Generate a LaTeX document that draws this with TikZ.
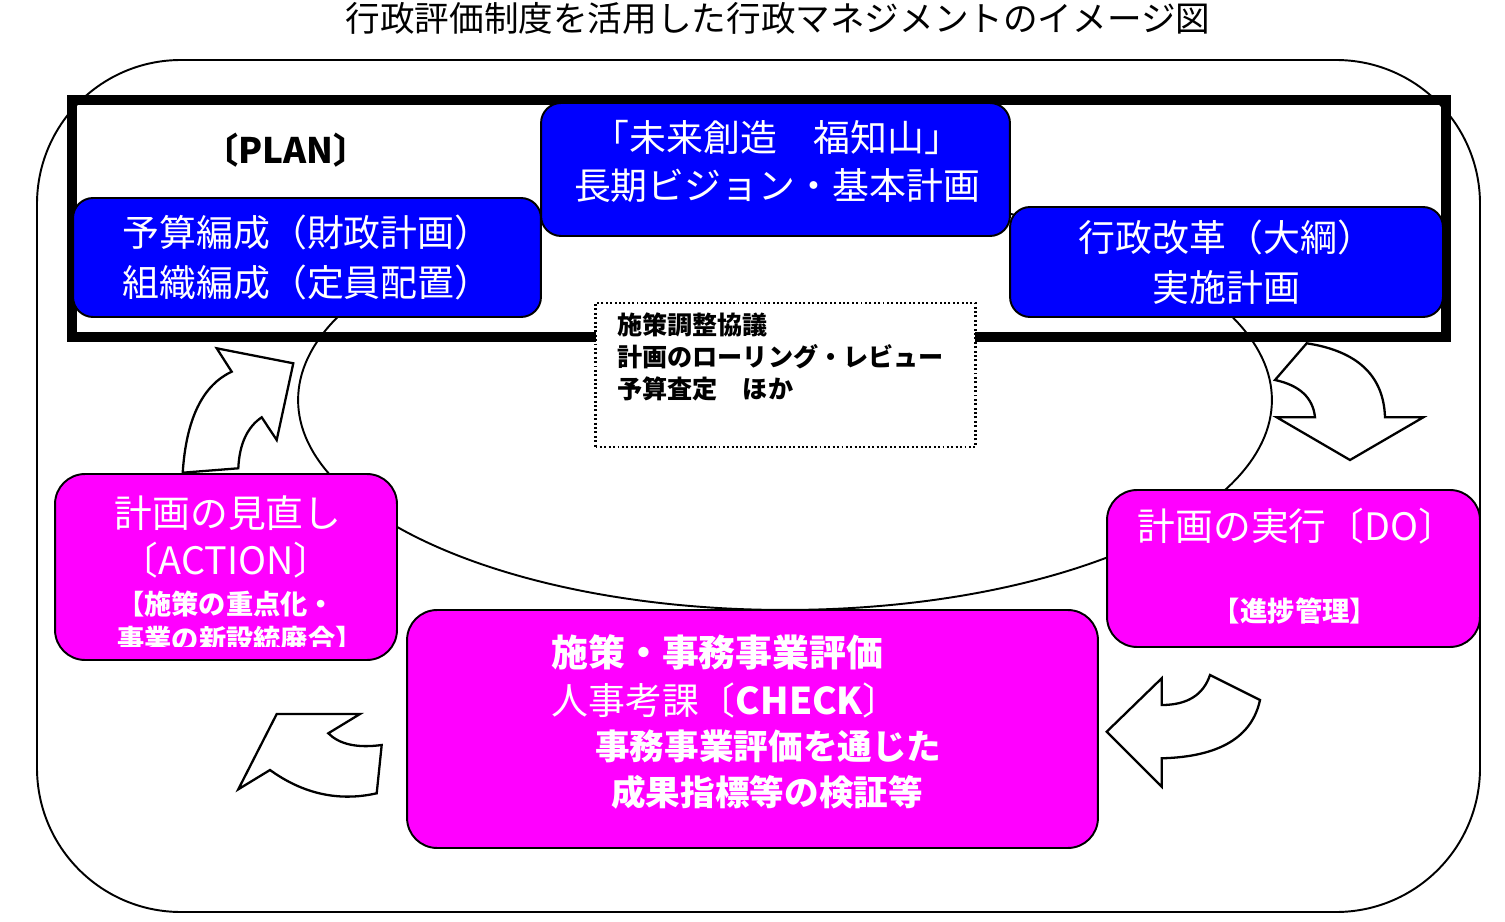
\documentclass[tikz,border=0pt]{standalone}
\usepackage{fontspec}
\setmainfont{Noto Sans CJK JP}
\definecolor{planblue}{RGB}{0,0,255}
\definecolor{actpink}{RGB}{255,0,255}

\begin{document}
\begin{tikzpicture}[x=0.02cm, y=-0.02cm, every node/.style={inner sep=0pt},
	bluebox/.style={draw, line width=1.1pt, fill=planblue, rounded corners=0.4cm, text=white, align=center, font=\fontsize{21}{28.4}\selectfont},
	pinkbox/.style={draw, line width=1.1pt, fill=actpink, rounded corners=0.6cm},
	boxtext/.style={text=white},
	blockarrow/.style={draw, fill=white, line width=1.3pt, line join=miter}]
	\useasboundingbox (0,0) rectangle (1505,922);
	% frame of the whole cycle
	\draw[line width=1.1pt, rounded corners=2.88cm] (37,60) rectangle (1480,912);
	\draw[line width=1.1pt] (785,400) ellipse [x radius=9.74cm, y radius=4.2cm];
	\draw[line width=5.4pt] (72,100) rectangle (1446,337);
	\node[font=\fontsize{19.7}{24}\selectfont] (title) at (778,18) {行政評価制度を活用した行政マネジメントのイメージ図};
	\node[font=\bfseries\fontsize{20}{24}\selectfont] (plan) at (286,150) {〔PLAN〕};
	% PLAN boxes
	\node[bluebox, minimum width=9.36cm, minimum height=2.38cm] (budget) at (307,257.5) {予算編成（財政計画）\\組織編成（定員配置）};
	\node[bluebox, minimum width=9.38cm, minimum height=2.66cm] (vision) at (775.5,169.5) {};
	\node[boxtext, align=center, font=\fontsize{21}{27.8}\selectfont] (visiontext) at (777,161.5) {「未来創造　福知山」\\長期ビジョン・基本計画};
	\node[bluebox, minimum width=8.66cm, minimum height=2.2cm] (reform) at (1226.5,262) {行政改革（大綱）\\実施計画};
	\node[draw, line width=1.4pt, dash pattern=on 1.1pt off 1.4pt, fill=white, minimum width=7.6cm, minimum height=2.88cm] (adjust) at (785.5,375) {};
	\node[anchor=west, align=left, font=\bfseries\fontsize{14.3}{18.1}\selectfont] (adjusttext) at (617,357) {施策調整協議\\計画のローリング・レビュー\\予算査定　ほか};
	% turning arrows
	\draw[blockarrow] (182.7,472.7) -- (238.3,468.3) .. controls (239.4,444.1) and (247.2,427.1) .. (261.7,417.3) -- (276.7,440) -- (293.3,363.3) -- (216.7,348.3) -- (231.7,371.7) .. controls (202.6,385.2) and (186.2,418.9) .. (182.7,472.7) -- cycle;
	\draw[blockarrow] (1306.7,343.3) -- (1275,380) .. controls (1299.7,385.3) and (1313,397.8) .. (1315,417.3) -- (1276.7,417.3) -- (1350,460) -- (1423.3,417.3) -- (1385,417.3) .. controls (1383.7,375.8) and (1357.6,351.1) .. (1306.7,343.3) -- cycle;
	\draw[blockarrow] (1106.7,731.7) -- (1161.7,678.3) -- (1161.7,705) .. controls (1187.2,705) and (1203.3,695) .. (1210,675) -- (1260,700) .. controls (1252,737.3) and (1219.2,756.8) .. (1161.7,758.3) -- (1161.7,786.7) -- cycle;
	\draw[blockarrow] (238.3,789.3) -- (276.7,714) -- (360,714) -- (328.3,733.3) .. controls (339.4,744.4) and (357.2,748.3) .. (381.7,745) -- (376.7,793.3) .. controls (338.9,801.8) and (303.3,794) .. (270,770) -- cycle;
	% ACTION, DO, CHECK
	\node[pinkbox, minimum width=6.84cm, minimum height=3.72cm] (action) at (226,567) {};
	\node[pinkbox, minimum width=7.46cm, minimum height=3.14cm] (do) at (1293.5,568.5) {};
	\node[pinkbox, minimum width=13.82cm, minimum height=4.76cm] (check) at (752.5,729) {};
	\begin{scope}
		\clip (55,474) rectangle (397,646);
		\node[boxtext, font=\fontsize{21.5}{24}\selectfont] (acttitle) at (228,513) {計画の見直し};
		\node[boxtext, font=\fontsize{21.5}{24}\selectfont] (actlabel) at (226,560) {〔ACTION〕};
		\node[boxtext, font=\bfseries\fontsize{15.5}{18}\selectfont] (actnote) at (226,604) {【施策の重点化・};
		\node[boxtext, font=\bfseries\fontsize{15.5}{18}\selectfont] (actnotetwo) at (240,639) {事業の新設統廃合】};
	\end{scope}
	\node[boxtext, font=\fontsize{21.5}{24}\selectfont] (dotitle) at (1297,526) {計画の実行〔DO〕};
	\node[boxtext, font=\bfseries\fontsize{15.6}{18}\selectfont] (donote) at (1295,611) {【進捗管理】};
	\node[boxtext, anchor=west, font=\bfseries\fontsize{21}{24}\selectfont] (checktitle) at (551,652) {施策・事務事業評価};
	\node[boxtext, anchor=west, font=\fontsize{21}{24}\selectfont] (checklabel) at (551,700) {人事考課〔{\bfseries CHECK}〕};
	\node[boxtext, anchor=west, font=\bfseries\fontsize{19.7}{24}\selectfont] (checknote) at (595,746) {事務事業評価を通じた};
	\node[boxtext, anchor=west, font=\bfseries\fontsize{19.7}{24}\selectfont] (checknotetwo) at (611,792) {成果指標等の検証等};
\end{tikzpicture}
\end{document}
